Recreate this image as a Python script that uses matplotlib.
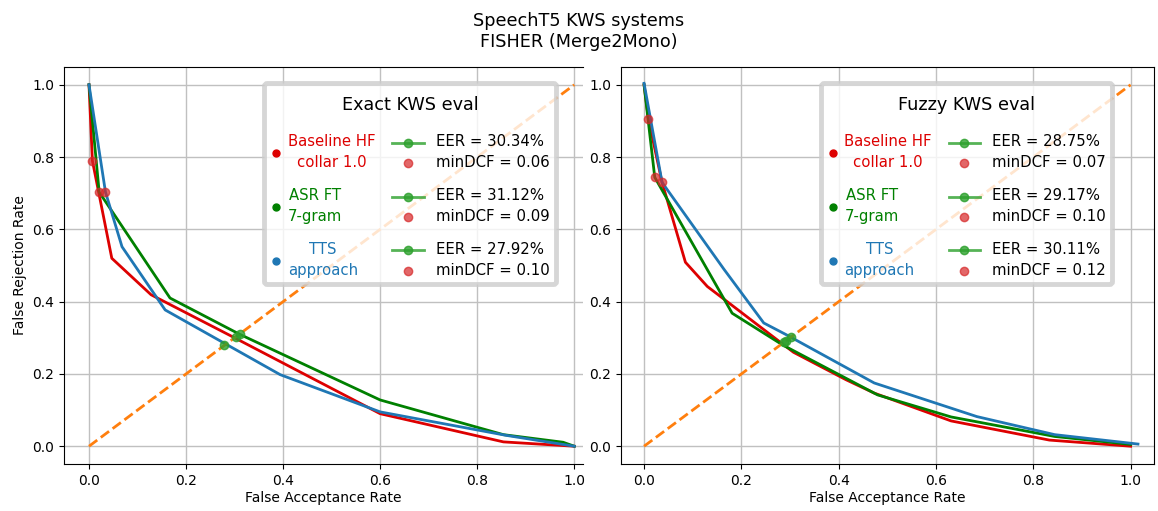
import matplotlib
matplotlib.use("Agg")
import matplotlib.pyplot as plt
from matplotlib.legend_handler import HandlerBase
from matplotlib.lines import Line2D
from matplotlib.offsetbox import PaddedBox

# systems
systems = ["Baseline HF\ncollar 1.0", "ASR FT\n7-gram", "TTS\napproach"]
sys_colors = ["#dd0000", "green", "tab:blue"]

# Exact KWS eval (FAR / FRR points of each system)
exact_far = [
    [0.0, 0.007, 0.047, 0.128, 0.30, 0.60, 0.854, 1.0],
    [0.0, 0.021, 0.167, 0.31, 0.60, 0.854, 0.977, 1.0],
    [0.0, 0.034, 0.068, 0.157, 0.394, 0.60, 0.86, 1.0],
]
exact_frr = [
    [1.0, 0.79, 0.52, 0.419, 0.30, 0.09, 0.012, 0.0],
    [1.0, 0.703, 0.41, 0.31, 0.128, 0.032, 0.011, 0.0],
    [1.0, 0.703, 0.552, 0.377, 0.198, 0.095, 0.03, 0.0],
]
exact_eer = [30.34, 31.12, 27.92]
exact_mindcf = [0.06, 0.09, 0.10]
exact_dcf_far = [0.007, 0.021, 0.034]
exact_dcf_frr = [0.79, 0.703, 0.703]

# Fuzzy KWS eval
fuzzy_far = [
    [0.0, 0.009, 0.037, 0.085, 0.13, 0.307, 0.415, 0.473, 0.631, 0.833, 1.0],
    [0.0, 0.022, 0.181, 0.285, 0.48, 0.631, 0.844, 1.0],
    [0.0, 0.037, 0.164, 0.246, 0.293, 0.473, 0.684, 0.844, 1.015],
]
fuzzy_frr = [
    [1.0, 0.905, 0.73, 0.509, 0.442, 0.26, 0.184, 0.147, 0.07, 0.017, 0.0],
    [1.0, 0.744, 0.368, 0.28, 0.142, 0.081, 0.027, 0.005],
    [1.004, 0.73, 0.49, 0.341, 0.308, 0.175, 0.082, 0.032, 0.006],
]
fuzzy_eer = [28.75, 29.17, 30.11]
fuzzy_mindcf = [0.07, 0.10, 0.12]
fuzzy_dcf_far = [0.009, 0.022, 0.037]
fuzzy_dcf_frr = [0.905, 0.744, 0.73]


class EerDcfKey:
    pass


class EerDcfHandler(HandlerBase):
    # green EER line on the first text line, red minDCF dot on the second
    def create_artists(self, legend, orig_handle, xdescent, ydescent,
                       width, height, fontsize, trans):
        yc = (height - ydescent) / 2
        dy = 0.68 * fontsize
        x0 = -xdescent - 1.75 * fontsize
        x1 = -xdescent + 0.35 * fontsize
        xm = (x0 + x1) / 2
        eer = Line2D([x0, x1], [yc + dy, yc + dy], color="tab:green", lw=2,
                     alpha=0.8, transform=trans)
        eer_dot = Line2D([xm], [yc + dy], marker="o", ms=6, ls="none",
                         color="tab:green", alpha=0.8, transform=trans)
        dcf = Line2D([xm], [yc - dy], marker="o", ms=6, ls="none",
                     color="tab:red", alpha=0.7, transform=trans)
        return [eer, eer_dot, dcf]


def draw_panel(ax, far, frr, eer, mindcf, dcf_far, dcf_frr, title):
    for f, r, c in zip(far, frr, sys_colors):
        ax.plot(f, r, color=c, lw=2)
    ax.plot([0, 1], [0, 1], "--", color="tab:orange", lw=2)
    for e in eer:
        ax.plot(e / 100, e / 100, "o", color="tab:green", ms=6, alpha=0.8)
    ax.plot(dcf_far, dcf_frr, "o", ls="none", color="tab:red", ms=6, alpha=0.7)
    ax.grid(True, color="#c0c0c0", lw=1)
    ax.set_ylim(-0.05, 1.05)
    ax.set_xlabel("False Acceptance Rate", labelpad=2)

    handles = [Line2D([], [], marker="o", ls="none", color=c, ms=5) for c in sys_colors]
    handles += [EerDcfKey() for _ in eer]
    labels = list(systems)
    labels += ["EER = %.2f%%\nminDCF = %.2f" % (e, d) for e, d in zip(eer, mindcf)]
    leg = ax.legend(handles, labels, ncol=2, title=title, fontsize=10.7,
                    title_fontsize=12.7, loc="upper right",
                    bbox_to_anchor=(0.962, 1.005), bbox_transform=ax.transData,
                    borderaxespad=0, handlelength=0.8, handletextpad=0.4,
                    columnspacing=2.87, labelspacing=1.2,
                    handler_map={EerDcfKey: EerDcfHandler()})
    leg.get_frame().set_linewidth(3.5)
    for t, c in zip(leg.get_texts()[:3], sys_colors):
        t.set_color(c)
        t.set_multialignment("center")
    for t in leg.get_texts():
        t.set_linespacing(1.49)
    # a bit more room above and below the legend title
    box = leg._legend_box
    box.get_children()[0] = PaddedBox(box.get_children()[0], pad=5)
    box.sep = 9.8
    return leg


fig = plt.figure(figsize=(11.58, 5.11), dpi=100)
ax1 = fig.add_axes([0.05527, 0.09139, 0.44819, 0.77808])
ax2 = fig.add_axes([0.53601, 0.09139, 0.46054, 0.77808])

draw_panel(ax1, exact_far, exact_frr, exact_eer, exact_mindcf,
           exact_dcf_far, exact_dcf_frr, "Exact KWS eval")
draw_panel(ax2, fuzzy_far, fuzzy_frr, fuzzy_eer, fuzzy_mindcf,
           fuzzy_dcf_far, fuzzy_dcf_frr, "Fuzzy KWS eval")
ax1.set_xlim(-0.0515, 1.018)
ax2.set_xlim(-0.048, 1.048)
ax1.spines["right"].set_visible(False)
ax1.set_ylabel("False Rejection Rate")

fig.suptitle("SpeechT5 KWS systems\nFISHER (Merge2Mono)", y=0.977, fontsize=12.7)

fig.savefig("out.png", dpi=100)
